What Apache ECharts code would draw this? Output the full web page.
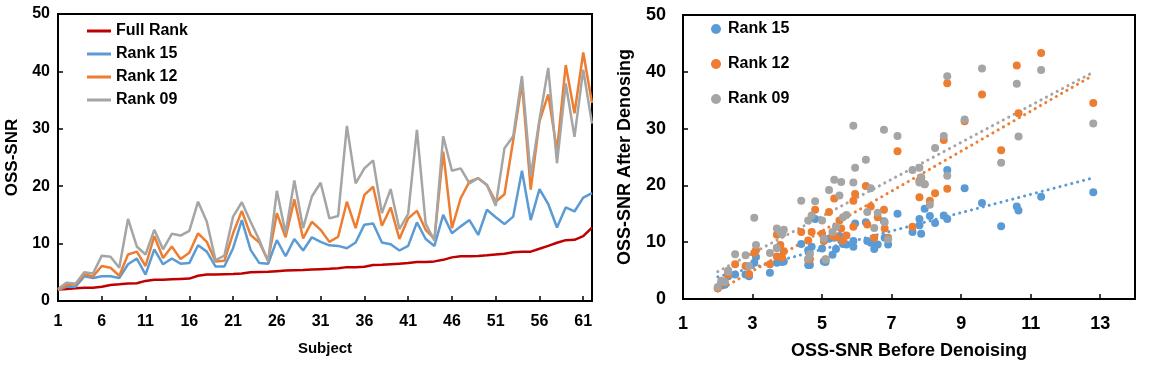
<!DOCTYPE html>
<html lang="en">
<head>
<meta charset="UTF-8">
<title>OSS-SNR</title>
<script src="https://cdn.jsdelivr.net/npm/echarts@6/dist/echarts.min.js"></script>
<style>
  body { margin: 0; background: #fff; }
  #left { position: absolute; left: 0; top: 0; width: 600px; height: 377px; }
  #right { position: absolute; left: 600px; top: 0; width: 552px; height: 377px; }
</style>
</head>
<body>
<div id="left"></div>
<div id="right"></div>
<script type="text/javascript">
// OSS-SNR per subject (subjects sorted by full rank value)
var subjects = [];
for (var i = 1; i <= 62; i++) subjects.push(String(i));

var fullRank = [2.0, 2.1, 2.2, 2.3, 2.3, 2.5, 2.8, 2.9, 3.05, 3.1,
    3.5, 3.7, 3.7, 3.8, 3.85, 3.9, 4.4, 4.6, 4.6, 4.65,
    4.7, 4.8, 5.0, 5.05, 5.1, 5.2, 5.3, 5.35, 5.4, 5.5,
    5.55, 5.6, 5.7, 5.9, 5.9, 5.95, 6.26, 6.3, 6.4, 6.5,
    6.6, 6.78, 6.8, 6.9, 7.17, 7.6, 7.8, 7.8, 7.85, 7.95,
    8.1, 8.25, 8.5, 8.6, 8.6, 9.1, 9.6, 10.15, 10.6, 10.65,
    11.3, 12.8];
var rank15 = [1.9, 2.5, 2.5, 4.3, 4.0, 4.3, 4.3, 4.0, 6.4, 7.4,
    4.6, 9.0, 6.4, 7.4, 6.5, 6.6, 9.7, 8.6, 6.0, 6.0,
    9.2, 14.1, 8.9, 6.6, 6.5, 10.6, 7.8, 10.8, 8.8, 11.1,
    10.3, 9.7, 9.6, 9.2, 10.2, 13.3, 13.5, 10.2, 9.9, 8.8,
    9.6, 13.7, 10.8, 9.6, 15.0, 11.8, 13.0, 14.1, 11.5, 15.9,
    14.6, 13.4, 14.7, 22.7, 14.1, 19.5, 16.9, 12.8, 16.3, 15.6,
    18.0, 18.8];
var rank12 = [1.9, 2.8, 2.9, 4.6, 4.3, 6.1, 5.8, 4.4, 8.1, 8.6,
    6.1, 11.3, 7.5, 9.5, 7.3, 8.4, 11.8, 10.3, 6.9, 7.0,
    11.8, 15.7, 11.5, 10.2, 7.0, 15.3, 11.1, 17.7, 10.9, 13.8,
    12.4, 10.3, 11.2, 17.3, 12.7, 18.5, 19.9, 13.1, 16.3, 10.8,
    14.4, 15.7, 12.4, 10.8, 26.0, 12.7, 17.9, 20.8, 21.4, 20.2,
    17.3, 18.6, 28.0, 38.0, 19.4, 31.3, 36.0, 26.2, 41.1, 32.7,
    43.3, 34.5];
var rank09 = [2.1, 3.2, 3.0, 5.0, 4.8, 7.9, 7.7, 5.8, 14.3, 9.5,
    8.1, 12.4, 9.0, 11.7, 11.4, 12.2, 17.3, 13.8, 7.1, 7.9,
    14.7, 17.2, 13.8, 10.6, 6.9, 19.2, 11.8, 21.0, 12.7, 18.2,
    20.6, 14.4, 14.8, 30.5, 20.5, 23.1, 24.5, 15.3, 19.5, 12.5,
    15.2, 29.8, 13.5, 10.5, 28.7, 22.7, 23.1, 20.5, 21.4, 20.2,
    16.6, 26.6, 28.7, 39.2, 21.7, 31.6, 40.6, 24.0, 37.9, 28.6,
    40.3, 30.9];

var colRed = '#C00000', colBlue = '#5B9BD5', colOrange = '#ED7D31', colGrey = '#A5A5A5';
var font = 'Liberation Sans';

// left: line chart
var left = echarts.init(document.getElementById('left'));
function lineSeries(name, data, color) {
    return {
        name: name, type: 'line', data: data, symbol: 'none',
        lineStyle: { color: color, width: 2.5 }, itemStyle: { color: color }
    };
}
left.setOption({
    animation: false,
    textStyle: { fontFamily: font },
    grid: {
        left: 58, right: 8, top: 14, bottom: 76, outerBoundsMode: 'none',
        show: true, borderColor: '#000', borderWidth: 2
    },
    legend: {
        orient: 'vertical', left: 82, top: 17, itemWidth: 24, itemHeight: 3, itemGap: 5,
        icon: 'rect',
        textStyle: { fontFamily: font, fontWeight: 'bold', fontSize: 16, color: '#000', lineHeight: 18 },
        data: ['Full Rank', 'Rank 15', 'Rank 12', 'Rank 09']
    },
    xAxis: {
        type: 'category', data: subjects, boundaryGap: false,
        name: 'Subject', nameLocation: 'middle', nameGap: 40,
        nameTextStyle: { fontFamily: font, fontWeight: 'bold', fontSize: 15, color: '#000' },
        axisLine: { lineStyle: { color: '#000', width: 2 } },
        axisTick: { inside: true, interval: 4, length: 5, lineStyle: { color: '#000', width: 1.5 } },
        axisLabel: { interval: 4, margin: 13, fontFamily: font, fontWeight: 'bold', fontSize: 16, color: '#000' }
    },
    yAxis: {
        type: 'value', min: 0, max: 50, interval: 10,
        name: 'OSS-SNR', nameLocation: 'middle', nameGap: 36,
        nameTextStyle: { fontFamily: font, fontWeight: 'bold', fontSize: 17, color: '#000' },
        splitLine: { show: false },
        axisLine: { show: true, lineStyle: { color: '#000', width: 2 } },
        axisTick: { show: true, inside: true, length: 5, lineStyle: { color: '#000', width: 1.5 } },
        axisLabel: { margin: 8, fontFamily: font, fontWeight: 'bold', fontSize: 16, color: '#000' }
    },
    series: [
        lineSeries('Full Rank', fullRank, colRed),
        lineSeries('Rank 15', rank15, colBlue),
        lineSeries('Rank 12', rank12, colOrange),
        lineSeries('Rank 09', rank09, colGrey)
    ]
});

// right: scatter before vs after denoising with linear trend lines
function pairs(ys) {
    return fullRank.map(function (x, i) { return [x, ys[i]]; });
}
function trend(ys) {
    var n = fullRank.length, sx = 0, sy = 0, sxx = 0, sxy = 0;
    for (var i = 0; i < n; i++) {
        sx += fullRank[i]; sy += ys[i];
        sxx += fullRank[i] * fullRank[i]; sxy += fullRank[i] * ys[i];
    }
    var b = (n * sxy - sx * sy) / (n * sxx - sx * sx);
    var a = (sy - b * sx) / n;
    var x0 = Math.min.apply(null, fullRank), x1 = Math.max.apply(null, fullRank);
    return [[x0, a + b * x0], [x1, a + b * x1]];
}
function scatterSeries(name, ys, color) {
    return {
        name: name, type: 'scatter', data: pairs(ys), symbolSize: 8,
        itemStyle: { color: color, opacity: 1 }
    };
}
function trendSeries(ys, color) {
    return {
        type: 'line', data: trend(ys), symbol: 'none', silent: true, z: 1,
        lineStyle: { color: color, width: 3, type: [0.1, 6], cap: 'round' }
    };
}
var right = echarts.init(document.getElementById('right'));
right.setOption({
    animation: false,
    textStyle: { fontFamily: font },
    grid: {
        left: 83, right: 17, top: 15, bottom: 78, outerBoundsMode: 'none',
        show: true, borderColor: '#000', borderWidth: 2
    },
    legend: {
        orient: 'vertical', left: 106, top: 16, itemWidth: 14, itemHeight: 10, itemGap: 19,
        icon: 'circle',
        textStyle: { fontFamily: font, fontWeight: 'bold', fontSize: 16, color: '#000' },
        data: ['Rank 15', 'Rank 12', 'Rank 09']
    },
    xAxis: {
        type: 'value', min: 1, max: 14, interval: 2,
        name: 'OSS-SNR Before Denoising', nameLocation: 'middle', nameGap: 43,
        nameTextStyle: { fontFamily: font, fontWeight: 'bold', fontSize: 18, color: '#000' },
        splitLine: { show: false },
        axisLine: { lineStyle: { color: '#000', width: 2 } },
        axisTick: { inside: true, length: 5, lineStyle: { color: '#000', width: 1.5 } },
        axisLabel: {
            margin: 16, fontFamily: font, fontWeight: 'bold', fontSize: 18, color: '#000',
            formatter: function (v) { return v === 14 ? '' : v; }
        }
    },
    yAxis: {
        type: 'value', min: 0, max: 50, interval: 10,
        name: 'OSS-SNR After Denosing', nameLocation: 'middle', nameGap: 49,
        nameTextStyle: { fontFamily: font, fontWeight: 'bold', fontSize: 18, color: '#000' },
        splitLine: { show: false },
        axisLine: { show: true, lineStyle: { color: '#000', width: 2 } },
        axisTick: { show: true, inside: true, length: 5, lineStyle: { color: '#000', width: 1.5 } },
        axisLabel: { margin: 17, fontFamily: font, fontWeight: 'bold', fontSize: 18, color: '#000' }
    },
    series: [
        scatterSeries('Rank 15', rank15, colBlue),
        scatterSeries('Rank 12', rank12, colOrange),
        scatterSeries('Rank 09', rank09, colGrey),
        trendSeries(rank15, colBlue),
        trendSeries(rank12, colOrange),
        trendSeries(rank09, colGrey)
    ]
});
</script>
</body>
</html>
